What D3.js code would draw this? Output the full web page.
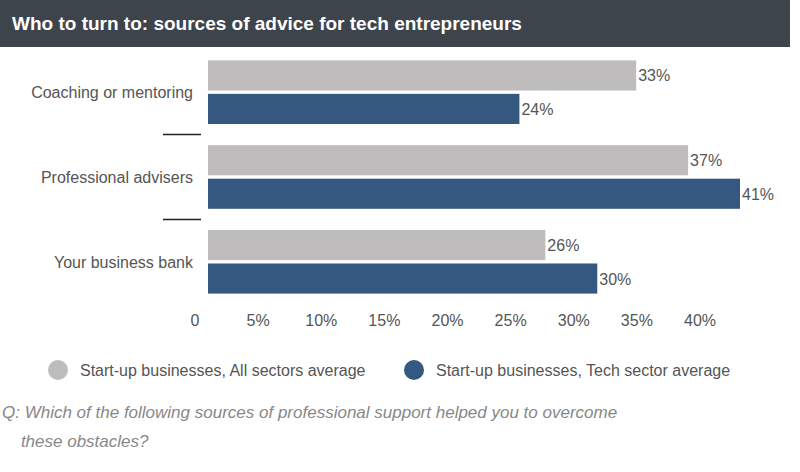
<!DOCTYPE html>
<html><head><meta charset="utf-8">
<script src="https://cdn.jsdelivr.net/npm/d3@7"></script>
<style>body{margin:0;background:#fff;font-family:"Liberation Sans",Arial,sans-serif}</style>
</head><body><div id="chart"></div>
<script>
const categories = ['Coaching or mentoring', 'Professional advisers', 'Your business bank'];
const allSectors = [33, 37, 26];
const techSector = [24, 41, 30];
const tickLabels = ['0', '5%', '10%', '15%', '20%', '25%', '30%', '35%', '40%'];
const seriesNames = ['Start-up businesses, All sectors average', 'Start-up businesses, Tech sector average'];
const colors = ['#bebcbc', '#34587f'];

const svg = d3.select('#chart').append('svg').attr('width', 800).attr('height', 472);

// title bar
svg.append('rect').attr('x', 0).attr('y', 0).attr('width', 790).attr('height', 47).attr('fill', '#3e444b');
svg.append('text').attr('x', 12).attr('y', 30).attr('fill', '#fff')
  .style('font-size', '19px').style('font-weight', 'bold')
  .text('Who to turn to: sources of advice for tech entrepreneurs');

const x = d3.scaleLinear().domain([0, 41]).range([208, 740]);
const y = d3.scaleBand().domain(categories).range([57, 297]).paddingInner(0.25).paddingOuter(0.04);
const sub = d3.scaleBand().domain([0, 1]).range([0, y.bandwidth()]).paddingInner(0.1);

const rows = categories.map((c, i) => ({ c, vals: [allSectors[i], techSector[i]] }));
const g = svg.selectAll('g.row').data(rows).join('g').attr('transform', d => `translate(0,${y(d.c)})`);

g.selectAll('rect').data(d => d.vals).join('rect')
  .attr('x', x(0)).attr('y', (d, i) => sub(i))
  .attr('width', d => x(d) - x(0)).attr('height', sub.bandwidth())
  .attr('fill', (d, i) => colors[i]);

g.selectAll('text.val').data(d => d.vals).join('text').attr('class', 'val')
  .attr('x', d => x(d) + 2).attr('y', (d, i) => sub(i) + sub.bandwidth() / 2 + 6)
  .attr('fill', '#555').style('font-size', '16px').text(d => d + '%');

g.append('text').attr('x', 193).attr('y', y.bandwidth() / 2 + 6).attr('text-anchor', 'end')
  .attr('fill', '#555').style('font-size', '16px').text(d => d.c);

// separators
svg.selectAll('line.sep').data(categories.slice(1)).join('line')
  .attr('x1', 163).attr('x2', 201)
  .attr('y1', d => y(d) - y.step() * y.paddingInner() / 2)
  .attr('y2', d => y(d) - y.step() * y.paddingInner() / 2)
  .attr('stroke', '#222').attr('stroke-width', 1.5);

// axis labels
const xt = d3.scalePoint().domain(tickLabels).range([195, 700]);
svg.selectAll('text.tick').data(tickLabels).join('text')
  .attr('x', d => xt(d)).attr('y', 326).attr('text-anchor', 'middle')
  .attr('fill', '#555').style('font-size', '16px').text(d => d);

// legend
const lx = [58, 414];
seriesNames.forEach((s, i) => {
  svg.append('circle').attr('cx', lx[i]).attr('cy', 370).attr('r', 10).attr('fill', colors[i]);
  svg.append('text').attr('x', lx[i] + 22).attr('y', 376).attr('fill', '#555')
    .style('font-size', '16px').text(s);
});

// footnote
const note = ['Q: Which of the following sources of professional support helped you to overcome', '    these obstacles?'];
svg.selectAll('text.note').data(note).join('text')
  .attr('x', 2).attr('y', (d, i) => 418 + i * 29).attr('fill', '#888')
  .style('font-size', '17px').style('font-style', 'italic').style('white-space', 'pre')
  .attr('xml:space', 'preserve').text(d => d);
</script></body></html>
